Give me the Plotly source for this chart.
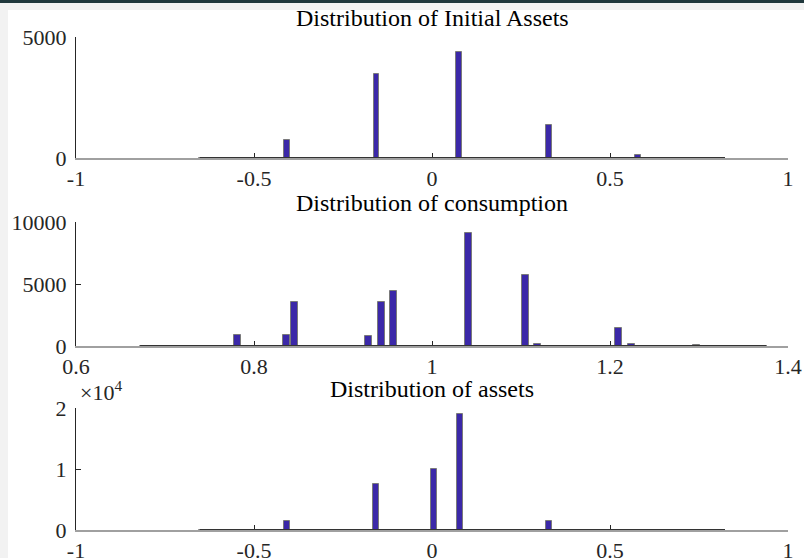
import plotly.graph_objects as go

# Histogram bins with non-zero counts (bin centre, count) for each panel
init_centers = [-0.646, -0.407, -0.156, 0.077, 0.328, 0.579]
init_counts = [15, 730, 3470, 4370, 1350, 110]
init_range = [-0.652, 0.823]

cons_centers = [0.676, 0.781, 0.837, 0.845, 0.929, 0.943, 0.957, 1.041, 1.105, 1.119, 1.210, 1.224, 1.297]
cons_counts = [25, 860, 860, 3520, 840, 3520, 4400, 9130, 5750, 150, 1450, 150, 110]
cons_range = [0.672, 1.376]

asset_centers = [-0.646, -0.407, -0.157, 0.005, 0.078, 0.328, 0.579]
asset_counts = [40, 1430, 7540, 9950, 19000, 1520, 60]
asset_range = [-0.652, 0.823]

titles = ["Distribution of Initial Assets", "Distribution of consumption", "Distribution of assets"]
x_ticks_a = [-1, -0.5, 0, 0.5, 1]
x_ticks_c = [0.6, 0.8, 1, 1.2, 1.4]
x_tick_text_a = ["-1", "-0.5", "0", "0.5", "1"]
x_tick_text_c = ["0.6", "0.8", "1", "1.2", "1.4"]

BAR = "#3b28a8"
EDGE = "#7a7a7a"
FONT = "Liberation Serif"
INK = "#262626"

W, H = 804, 558
x_dom = [76 / W, 788 / W]
# plot areas in pixel rows (top, bottom)
rows = [(37, 158), (222, 346), (408, 530)]
y_doms = [[1 - b / H, 1 - t / H] for t, b in rows]

fig = go.Figure()

panels = [
    (init_centers, init_counts, init_range, 0.0165, [-1, 1], x_ticks_a, x_tick_text_a,
     [0, 5000], [0, 5000], ["0", "5000"]),
    (cons_centers, cons_counts, cons_range, 0.0079, [0.6, 1.4], x_ticks_c, x_tick_text_c,
     [0, 10000], [0, 5000, 10000], ["0", "5000", "10000"]),
    (asset_centers, asset_counts, asset_range, 0.0165, [-1, 1], x_ticks_a, x_tick_text_a,
     [0, 20000], [0, 10000, 20000], ["0", "1", "2"]),
]

for i, (cx, cy, hr, bw, xr, xt, xtt, yr, yt, ytt) in enumerate(panels):
    n = "" if i == 0 else str(i + 1)
    xa, ya = "x" + n, "y" + n
    # baseline drawn by the empty bins of the histogram
    fig.add_trace(go.Scatter(x=hr, y=[0, 0], mode="lines",
                             line=dict(color="#333333", width=2),
                             xaxis=xa, yaxis=ya, showlegend=False, hoverinfo="skip"))
    fig.add_trace(go.Bar(x=cx, y=cy, width=bw, marker=dict(color=BAR, line=dict(color=EDGE, width=1)),
                         xaxis=xa, yaxis=ya, showlegend=False))
    axis_common = dict(showgrid=False, zeroline=False, ticks="inside", ticklen=5,
                       tickcolor=INK, layer="below traces", automargin=False,
                       tickfont=dict(family=FONT, size=22, color=INK))
    fig.layout["xaxis" + n] = dict(domain=x_dom, range=xr, tickvals=xt, ticktext=xtt,
                                   showline=True, linecolor="#a0a0a0", linewidth=2,
                                   anchor=ya, ticklabelstandoff=0, **axis_common)
    fig.layout["yaxis" + n] = dict(domain=y_doms[i], range=yr, tickvals=yt, ticktext=ytt,
                                   showline=True, linecolor=INK, linewidth=1,
                                   anchor=xa, ticklabelstandoff=4, **axis_common)
    fig.add_annotation(text=titles[i], xref="paper", yref="paper",
                       x=(x_dom[0] + x_dom[1]) / 2, y=y_doms[i][1] + 4 / H,
                       xanchor="center", yanchor="bottom", showarrow=False,
                       font=dict(family=FONT, size=24, color="black"))

fig.add_annotation(text="×10<sup>4</sup>", xref="paper", yref="paper",
                   x=78 / W, y=y_doms[2][1] + 1 / H, xanchor="left", yanchor="bottom",
                   showarrow=False, font=dict(family=FONT, size=22, color=INK))

# window chrome: light frame and dark strip along the top
fig.add_shape(type="rect", xref="paper", yref="paper", x0=8 / W, x1=1, y0=0, y1=1 - 10 / H,
              fillcolor="white", line=dict(width=0), layer="below")
fig.add_shape(type="rect", xref="paper", yref="paper", x0=0, x1=1, y0=1 - 3 / H, y1=1,
              fillcolor="#20383c", line=dict(width=0), layer="below")

fig.update_layout(template="none", width=W, height=H, margin=dict(l=0, r=0, t=0, b=0, pad=0),
                  paper_bgcolor="#f2f2f2", plot_bgcolor="rgba(0,0,0,0)",
                  bargap=0, barmode="overlay")

fig.write_html("out.html")
